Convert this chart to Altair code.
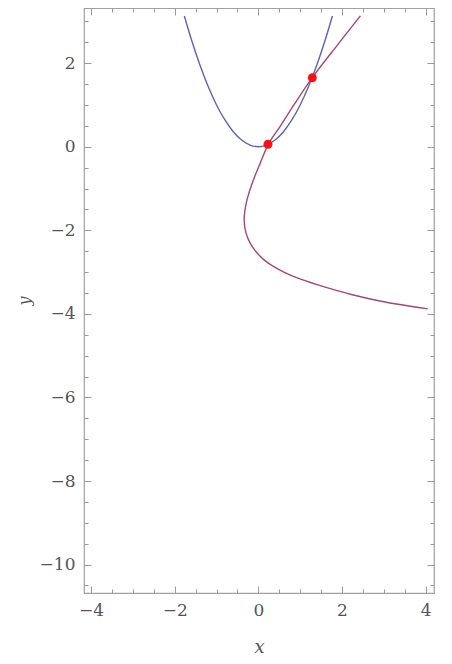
import altair as alt
import pandas as pd

# Blue curve (parabola)
blue_x = [-1.77, -1.6, -1.4, -1.2, -1.0, -0.8, -0.6, -0.4, -0.2, 0.0, 0.2, 0.4, 0.6, 0.8, 1.0, 1.2, 1.4, 1.6, 1.77]
blue_y = [3.13, 2.56, 1.96, 1.44, 1.0, 0.64, 0.36, 0.16, 0.04, 0.0, 0.04, 0.16, 0.36, 0.64, 1.0, 1.44, 1.96, 2.56, 3.13]

# Red curve (ordered along the curve)
red_x = [2.44, 1.88, 1.28, 0.85, 0.53, 0.25, 0.05, -0.15, -0.29, -0.34, -0.30, -0.2, -0.05, 0.15, 0.37,
         0.61, 0.93, 1.4, 1.8, 2.2, 3.0, 4.05]
red_y = [3.13, 2.42, 1.64, 1.0, 0.5, 0.08, -0.38, -0.88, -1.35, -1.75, -2.05, -2.3, -2.52, -2.72, -2.87,
         -3.0, -3.14, -3.30, -3.42, -3.53, -3.71, -3.88]

# Intersection points
pt_x = [0.23, 1.29]
pt_y = [0.06, 1.65]

major_x = [-4, -2, 0, 2, 4]
major_y = [-10, -8, -6, -4, -2, 0, 2]
minor_x = [-4, -3.5, -3, -2.5, -2, -1.5, -1, -0.5, 0, 0.5, 1, 1.5, 2, 2.5, 3, 3.5, 4]
minor_y = [-10.5, -10, -9.5, -9, -8.5, -8, -7.5, -7, -6.5, -6, -5.5, -5, -4.5, -4, -3.5, -3, -2.5,
           -2, -1.5, -1, -0.5, 0, 0.5, 1, 1.5, 2, 2.5, 3]

x_domain = [-4.17, 4.2]
y_domain = [-10.68, 3.32]

blue_df = pd.DataFrame({"x": blue_x, "y": blue_y, "i": list(range(len(blue_x)))})
red_df = pd.DataFrame({"x": red_x, "y": red_y, "i": list(range(len(red_x)))})
pt_df = pd.DataFrame({"x": pt_x, "y": pt_y})

xs = alt.Scale(domain=x_domain, nice=False, zero=False)
ys = alt.Scale(domain=y_domain, nice=False, zero=False)

FONT = "DejaVu Serif"
TXT = "#555555"
TICK = "#9a9a9a"


def tick_axis(orient, values, size):
    return alt.Axis(orient=orient, values=values, labels=False, domain=False, grid=False,
                    ticks=True, tickSize=size, offset=-size, tickColor=TICK, tickWidth=1)


label_x_axis = alt.Axis(orient="bottom", values=major_x, format="d", ticks=False, domain=False,
                        grid=False, labelFont=FONT, labelFontSize=17, labelColor=TXT,
                        labelPadding=9, titleFont=FONT, titleFontSize=18, titleFontStyle="italic",
                        titleFontWeight="normal", titleColor=TXT, titlePadding=20)
label_y_axis = alt.Axis(orient="left", values=major_y, format="d", ticks=False, domain=False,
                        grid=False, labelFont=FONT, labelFontSize=17, labelColor=TXT,
                        labelPadding=9, titleFont=FONT, titleFontSize=16, titleFontStyle="italic",
                        titleFontWeight="normal", titleColor=TXT, titlePadding=7)

blue = alt.Chart(blue_df).mark_line(color="#5c64b4", strokeWidth=1.4, interpolate="monotone", clip=True).encode(
    x=alt.X("x:Q", scale=xs, axis=label_x_axis, title="x"),
    y=alt.Y("y:Q", scale=ys, axis=label_y_axis, title="y"),
    order="i:Q",
)

red = alt.Chart(red_df).mark_line(color="#a24878", strokeWidth=1.4, interpolate="catmull-rom", clip=True).encode(
    x=alt.X("x:Q", scale=xs, axis=tick_axis("bottom", major_x, 7), title=None),
    y=alt.Y("y:Q", scale=ys, axis=tick_axis("left", major_y, 7), title=None),
    order="i:Q",
)

pts = alt.Chart(pt_df).mark_circle(color="#ff1010", size=80, opacity=1).encode(
    x=alt.X("x:Q", scale=xs, axis=tick_axis("top", major_x, 7), title=None),
    y=alt.Y("y:Q", scale=ys, axis=tick_axis("right", major_y, 7), title=None),
)

minor1 = alt.Chart(pt_df).mark_point(opacity=0).encode(
    x=alt.X("x:Q", scale=xs, axis=tick_axis("bottom", minor_x, 4), title=None),
    y=alt.Y("y:Q", scale=ys, axis=tick_axis("left", minor_y, 4), title=None),
)

minor2 = alt.Chart(pt_df).mark_point(opacity=0).encode(
    x=alt.X("x:Q", scale=xs, axis=tick_axis("top", minor_x, 4), title=None),
    y=alt.Y("y:Q", scale=ys, axis=tick_axis("right", minor_y, 4), title=None),
)

chart = alt.layer(blue, red, pts, minor1, minor2).resolve_axis(
    x="independent", y="independent"
).properties(
    width=350,
    height=585,
    autosize=alt.AutoSizeParams(type="none"),
    padding={"left": 76, "top": 0, "right": 10, "bottom": 68},
).configure_view(stroke="#a0a0a0", strokeWidth=1.2)

chart.save("out.html", embed_options={"renderer": "svg", "actions": False})
